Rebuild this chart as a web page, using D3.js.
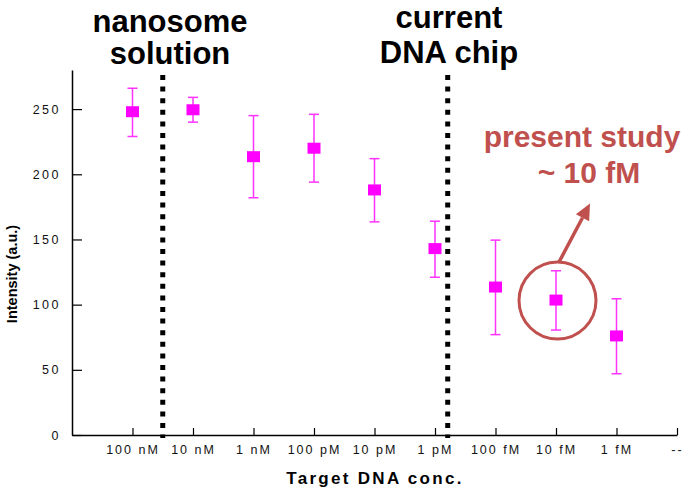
<!DOCTYPE html>
<html>
<head>
<meta charset="utf-8">
<script src="https://cdn.jsdelivr.net/npm/d3@7"></script>
<style>
  body { margin: 0; background: #fff; }
  text { font-family: "Liberation Sans", Arial, sans-serif; }
</style>
</head>
<body>
<div id="chart"></div>
<script>
// categories on the x axis (last one is the empty "--" slot)
const concLabels = ['100 nM', '10 nM', '1 nM', '100 pM', '10 pM', '1 pM', '100 fM', '10 fM', '1 fM', '--'];
// mean intensity and error bar ends
const intensity = [248, 249.5, 213.5, 220, 188, 143, 113.5, 103.5, 76];
const errHigh = [266, 259, 245, 246, 212, 164, 149.5, 126, 104.5];
const errLow = [229, 240, 182, 194, 163.5, 121, 77, 80.5, 47];
const yTicks = [0, 50, 100, 150, 200, 250];
// region dividers, in category index units
const dividers = [
  { pos: 1.5, lines: ['nanosome', 'solution'], cx: 170, base: [32, 64] },
  { pos: 6.21, lines: ['current', 'DNA chip'], cx: 449, base: [28, 63] }
];

const W = 688, H = 487;
const red = '#c0504d', magenta = '#ff00ff';

const svg = d3.select('#chart').append('svg')
  .attr('width', W)
  .attr('height', H);

const x = d3.scaleLinear().domain([0, concLabels.length]).range([72, 677]);
const y = d3.scaleLinear().domain([0, 280]).range([435, 70]);

// axes
const xAxis = svg.append('g')
  .attr('transform', 'translate(0,' + y(0) + ')')
  .call(d3.axisBottom(x)
    .tickValues(d3.range(1, concLabels.length + 1))
    .tickFormat(d => concLabels[d - 1])
    .tickSizeInner(-7)
    .tickSizeOuter(0)
    .tickPadding(10));
xAxis.select('.domain').attr('stroke-width', 1.5);
xAxis.selectAll('.tick line').attr('stroke-width', 1.2);
xAxis.selectAll('.tick text')
  .style('font-size', '12.5px')
  .style('letter-spacing', '2px')
  .attr('fill', '#111');

const yAxis = svg.append('g')
  .attr('transform', 'translate(' + x(0) + ',0)')
  .call(d3.axisLeft(y)
    .tickValues(yTicks)
    .tickSizeInner(-10)
    .tickSizeOuter(0)
    .tickPadding(11));
yAxis.select('.domain').attr('stroke-width', 1.5);
yAxis.selectAll('.tick line').attr('stroke-width', 1.2);
yAxis.selectAll('.tick text')
  .style('font-size', '12.5px')
  .style('letter-spacing', '2.5px')
  .attr('fill', '#111');

// axis titles
svg.append('text')
  .attr('x', 375)
  .attr('y', 484)
  .attr('text-anchor', 'middle')
  .style('font-size', '17px')
  .style('font-weight', 'bold')
  .style('letter-spacing', '2.3px')
  .text('Target DNA conc.');

svg.append('text')
  .attr('transform', 'translate(17,274) rotate(-90)')
  .attr('text-anchor', 'middle')
  .style('font-size', '14.5px')
  .style('font-weight', 'bold')
  .text('Intensity (a.u.)');

// dotted dividers and their headings
const div = svg.selectAll('.divider')
  .data(dividers)
  .enter().append('g')
  .attr('class', 'divider');

div.append('line')
  .attr('x1', d => x(d.pos))
  .attr('x2', d => x(d.pos))
  .attr('y1', 75)
  .attr('y2', 438)
  .attr('stroke', '#000')
  .attr('stroke-width', 5)
  .attr('stroke-dasharray', '5 6.6');

div.each(function (d) {
  const g = d3.select(this);
  d.lines.forEach((t, i) => {
    g.append('text')
      .attr('x', d.cx)
      .attr('y', d.base[i])
      .attr('text-anchor', 'middle')
      .style('font-size', '31px')
      .style('font-weight', 'bold')
      .text(t);
  });
});

// error bars and markers
const pts = svg.selectAll('.pt')
  .data(intensity.map((v, i) => ({ i: i + 1, v: v, hi: errHigh[i], lo: errLow[i] })))
  .enter().append('g')
  .attr('class', 'pt');

pts.append('line')
  .attr('x1', d => x(d.i)).attr('x2', d => x(d.i))
  .attr('y1', d => y(d.hi)).attr('y2', d => y(d.lo))
  .attr('stroke', '#ff33ff').attr('stroke-width', 1.5);

['hi', 'lo'].forEach(k => {
  pts.append('line')
    .attr('x1', d => x(d.i) - 5).attr('x2', d => x(d.i) + 5)
    .attr('y1', d => y(d[k])).attr('y2', d => y(d[k]))
    .attr('stroke', '#ff33ff').attr('stroke-width', 1.5);
});

pts.append('rect')
  .attr('x', d => x(d.i) - 6.5)
  .attr('y', d => y(d.v) - 5.5)
  .attr('width', 13)
  .attr('height', 11)
  .attr('fill', magenta);

// "present study" annotation around 10 fM
const cx = x(8) + 1.5, cy = y(intensity[7]) + 0.5, r = 38.5;
svg.append('circle')
  .attr('cx', cx).attr('cy', cy).attr('r', r)
  .attr('fill', 'none')
  .attr('stroke', red)
  .attr('stroke-width', 3);

const ax0 = cx + 1.5, ay0 = cy - r, ax1 = cx + 32.5, ay1 = cy - 97;
const ang = Math.atan2(ay1 - ay0, ax1 - ax0);
const hl = 16, hw = 7.5;
const bx = ax1 - hl * Math.cos(ang), by = ay1 - hl * Math.sin(ang);
svg.append('line')
  .attr('x1', ax0).attr('y1', ay0)
  .attr('x2', bx).attr('y2', by)
  .attr('stroke', red)
  .attr('stroke-width', 3.5);
svg.append('path')
  .attr('d', d3.line()([
    [ax1, ay1],
    [bx + hw * Math.sin(ang), by - hw * Math.cos(ang)],
    [bx - hw * Math.sin(ang), by + hw * Math.cos(ang)]
  ]) + 'Z')
  .attr('fill', red);

svg.append('text')
  .attr('x', 582).attr('y', 147)
  .attr('text-anchor', 'middle')
  .style('font-size', '30px')
  .style('font-weight', 'bold')
  .attr('fill', red)
  .text('present study');
svg.append('text')
  .attr('x', 589).attr('y', 183)
  .attr('text-anchor', 'middle')
  .style('font-size', '30px')
  .style('font-weight', 'bold')
  .attr('fill', red)
  .text('~ 10 fM');
</script>
</body>
</html>
